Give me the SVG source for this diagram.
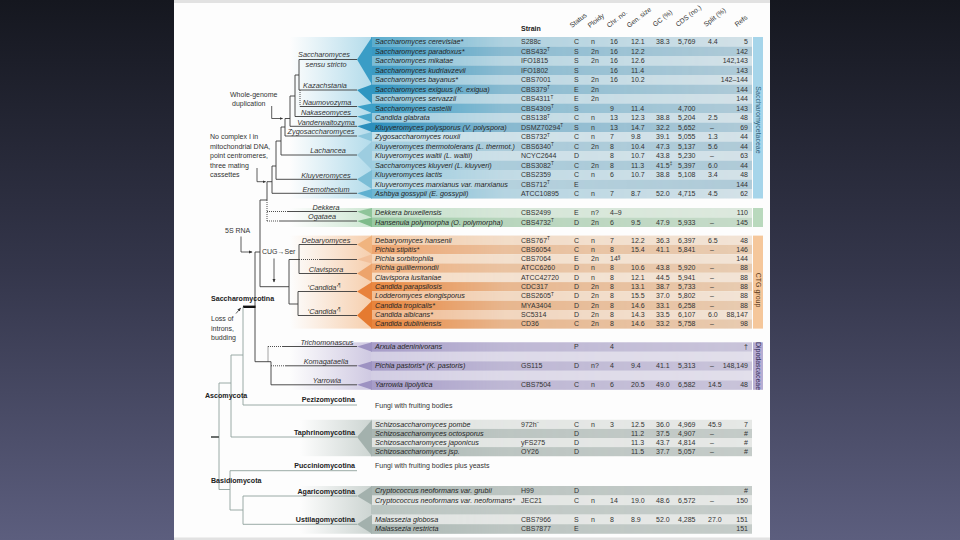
<svg xmlns="http://www.w3.org/2000/svg" width="960" height="540" viewBox="0 0 960 540">
<defs>
<linearGradient id="bg" x1="0" y1="0" x2="0" y2="1">
<stop offset="0" stop-color="#15171f"/><stop offset="0.5" stop-color="#34364b"/><stop offset="1" stop-color="#5c5e7e"/>
</linearGradient>
<linearGradient id="gB" gradientUnits="userSpaceOnUse" x1="290" y1="0" x2="371" y2="0"><stop offset="0" stop-color="#b4dceb" stop-opacity="0"/><stop offset="1" stop-color="#b4dceb"/></linearGradient>
<linearGradient id="gG" gradientUnits="userSpaceOnUse" x1="290" y1="0" x2="371" y2="0"><stop offset="0" stop-color="#cde6d2" stop-opacity="0"/><stop offset="1" stop-color="#cde6d2"/></linearGradient>
<linearGradient id="gO" gradientUnits="userSpaceOnUse" x1="290" y1="0" x2="371" y2="0"><stop offset="0" stop-color="#f6cfae" stop-opacity="0"/><stop offset="1" stop-color="#f6cfae"/></linearGradient>
<linearGradient id="gP" gradientUnits="userSpaceOnUse" x1="290" y1="0" x2="371" y2="0"><stop offset="0" stop-color="#cfc9e2" stop-opacity="0"/><stop offset="1" stop-color="#cfc9e2"/></linearGradient>
<linearGradient id="gY" gradientUnits="userSpaceOnUse" x1="300" y1="0" x2="371" y2="0"><stop offset="0" stop-color="#cdd5d2" stop-opacity="0"/><stop offset="1" stop-color="#cdd5d2"/></linearGradient>
<linearGradient id="fadeG" gradientUnits="userSpaceOnUse" x1="371" y1="0" x2="752" y2="0"><stop offset="0" stop-color="#fff"/><stop offset="0.35" stop-color="#fff" stop-opacity="0.3"/><stop offset="1" stop-color="#fff" stop-opacity="0"/></linearGradient>
<mask id="fade" maskUnits="userSpaceOnUse" x="360" y="0" width="400" height="540"><rect x="360" y="0" width="400" height="540" fill="url(#fadeG)"/></mask>
<marker id="ah" viewBox="0 0 6 6" refX="5" refY="3" markerWidth="4.5" markerHeight="4.5" orient="auto"><path d="M0,0.5 L6,3 L0,5.5 z" fill="#333"/></marker>
<style>
text{font-family:"Liberation Sans",Arial,sans-serif}
.sp{font-size:7.2px;font-style:italic;fill:#262626}
.d{font-size:7px;fill:#333}
.r{text-anchor:end}
.hd{font-size:6.8px;fill:#333}
.st{font-size:7px;font-weight:bold;fill:#222}
.tl{font-size:7.3px;font-style:italic;fill:#333;text-anchor:middle}
.lb{font-size:7px;fill:#333}
.bd{font-size:7.1px;font-weight:bold;fill:#222}
.bdr{font-size:7.1px;font-weight:bold;fill:#222;text-anchor:end}
.vl{font-size:7px;text-anchor:middle}
.sup{font-size:4.6px}
.k{fill:none;stroke:#3a3a3a;stroke-width:0.9}
.g{fill:none;stroke:#8fa09c;stroke-width:0.9}
.dot{stroke-dasharray:1 1}
.ar{fill:none;stroke:#333;stroke-width:0.8;marker-end:url(#ah)}
</style>
</defs>
<rect x="0" y="0" width="960" height="540" fill="url(#bg)"/>
<rect x="174" y="0" width="596" height="540" fill="#fdfdfd"/>
<rect x="174" y="0" width="596" height="3" fill="#e2e2e2"/>
<rect x="174" y="537.5" width="596" height="2.5" fill="#e2e2e2"/>

<!-- group backgrounds -->
<g id="backgrounds">
<rect x="290" y="37" width="82" height="161.5" fill="url(#gB)"/>
<rect x="290" y="208" width="82" height="19" fill="url(#gG)"/>
<rect x="290" y="235.6" width="82" height="93" fill="url(#gO)"/>
<rect x="290" y="342.3" width="82" height="47.5" fill="url(#gP)"/>
<rect x="300" y="419.8" width="72" height="36.4" fill="url(#gY)"/>
<rect x="300" y="486" width="72" height="47.75" fill="url(#gY)"/>
</g>

<!-- row base colours (data region) -->
<g id="rowbase">
<rect x="371" y="37" width="381" height="9.5" fill="#d4e2e8"/>
<rect x="371" y="46.5" width="381" height="9.5" fill="#b0cbd8"/>
<rect x="371" y="56" width="381" height="9.5" fill="#d4e2e8"/>
<rect x="371" y="65.5" width="381" height="9.5" fill="#b0cbd8"/>
<rect x="371" y="75" width="381" height="9.5" fill="#d4e2e8"/>
<rect x="371" y="84.5" width="381" height="9.5" fill="#b0cbd8"/>
<rect x="371" y="94" width="381" height="9.5" fill="#d4e2e8"/>
<rect x="371" y="103.5" width="381" height="9.5" fill="#b0cbd8"/>
<rect x="371" y="113" width="381" height="9.5" fill="#d4e2e8"/>
<rect x="371" y="122.5" width="381" height="9.5" fill="#b0cbd8"/>
<rect x="371" y="132" width="381" height="9.5" fill="#d4e2e8"/>
<rect x="371" y="141.5" width="381" height="9.5" fill="#b0cbd8"/>
<rect x="371" y="151" width="381" height="9.5" fill="#d4e2e8"/>
<rect x="371" y="160.5" width="381" height="9.5" fill="#b0cbd8"/>
<rect x="371" y="170" width="381" height="9.5" fill="#d4e2e8"/>
<rect x="371" y="179.5" width="381" height="9.5" fill="#b0cbd8"/>
<rect x="371" y="189" width="381" height="9.5" fill="#d4e2e8"/>
<rect x="371" y="208" width="381" height="9.5" fill="#dde9de"/>
<rect x="371" y="217.5" width="381" height="9.5" fill="#c6dbc9"/>
<rect x="371" y="235.6" width="381" height="9.3" fill="#f2e4d6"/>
<rect x="371" y="244.9" width="381" height="9.3" fill="#e8ccb2"/>
<rect x="371" y="254.2" width="381" height="9.3" fill="#f2e4d6"/>
<rect x="371" y="263.5" width="381" height="9.3" fill="#e8ccb2"/>
<rect x="371" y="272.8" width="381" height="9.3" fill="#f2e4d6"/>
<rect x="371" y="282.1" width="381" height="9.3" fill="#e8ccb2"/>
<rect x="371" y="291.4" width="381" height="9.3" fill="#f2e4d6"/>
<rect x="371" y="300.7" width="381" height="9.3" fill="#e8ccb2"/>
<rect x="371" y="310" width="381" height="9.3" fill="#f2e4d6"/>
<rect x="371" y="319.3" width="381" height="9.3" fill="#e8ccb2"/>
<rect x="371" y="342.3" width="381" height="9.5" fill="#c9c4da"/>
<rect x="371" y="351.8" width="381" height="9.5" fill="#e2dfeb"/>
<rect x="371" y="361.3" width="381" height="9.5" fill="#c9c4da"/>
<rect x="371" y="370.8" width="381" height="9.5" fill="#e2dfeb"/>
<rect x="371" y="380.3" width="381" height="9.5" fill="#c9c4da"/>
<rect x="371" y="419.8" width="381" height="9.1" fill="#e6e8e6"/>
<rect x="371" y="428.9" width="381" height="9.1" fill="#c5ccc9"/>
<rect x="371" y="438" width="381" height="9.1" fill="#e6e8e6"/>
<rect x="371" y="447.1" width="381" height="9.1" fill="#c5ccc9"/>
<rect x="371" y="486" width="381" height="9.55" fill="#c5ccc9"/>
<rect x="371" y="495.55" width="381" height="9.55" fill="#e6e8e6"/>
<rect x="371" y="505.1" width="381" height="9.55" fill="#c5ccc9"/>
<rect x="371" y="514.65" width="381" height="9.55" fill="#e6e8e6"/>
<rect x="371" y="524.2" width="381" height="9.55" fill="#c5ccc9"/>
</g>

<!-- species column colours, fading to the right -->
<g id="rowtint" mask="url(#fade)">
<rect x="371" y="37" width="381" height="9.5" fill="#5aaccd"/>
<rect x="371" y="46.5" width="381" height="9.5" fill="#3898c2"/>
<rect x="371" y="56" width="381" height="9.5" fill="#79bbd5"/>
<rect x="371" y="65.5" width="381" height="9.5" fill="#3a99c2"/>
<rect x="371" y="75" width="381" height="9.5" fill="#84c0d8"/>
<rect x="371" y="84.5" width="381" height="9.5" fill="#2f94bf"/>
<rect x="371" y="94" width="381" height="9.5" fill="#93c8dc"/>
<rect x="371" y="103.5" width="381" height="9.5" fill="#3a9ec7"/>
<rect x="371" y="113" width="381" height="9.5" fill="#9acbdf"/>
<rect x="371" y="122.5" width="381" height="9.5" fill="#2b8ebc"/>
<rect x="371" y="132" width="381" height="9.5" fill="#c4e1ec"/>
<rect x="371" y="141.5" width="381" height="9.5" fill="#a3d0e2"/>
<rect x="371" y="151" width="381" height="9.5" fill="#bcdce8"/>
<rect x="371" y="160.5" width="381" height="9.5" fill="#a0cfe1"/>
<rect x="371" y="170" width="381" height="9.5" fill="#94c9de"/>
<rect x="371" y="179.5" width="381" height="9.5" fill="#bfdfea"/>
<rect x="371" y="189" width="381" height="9.5" fill="#6db5d2"/>
<rect x="371" y="208" width="381" height="9.5" fill="#c5e1cb"/>
<rect x="371" y="217.5" width="381" height="9.5" fill="#98c9a2"/>
<rect x="371" y="235.6" width="381" height="9.3" fill="#f3cba8"/>
<rect x="371" y="244.9" width="381" height="9.3" fill="#eea46e"/>
<rect x="371" y="254.2" width="381" height="9.3" fill="#f6d6b9"/>
<rect x="371" y="263.5" width="381" height="9.3" fill="#efae7c"/>
<rect x="371" y="272.8" width="381" height="9.3" fill="#f7dbc2"/>
<rect x="371" y="282.1" width="381" height="9.3" fill="#e9873f"/>
<rect x="371" y="291.4" width="381" height="9.3" fill="#f2bf95"/>
<rect x="371" y="300.7" width="381" height="9.3" fill="#e8843b"/>
<rect x="371" y="310" width="381" height="9.3" fill="#f0b487"/>
<rect x="371" y="319.3" width="381" height="9.3" fill="#e8843b"/>
<rect x="371" y="342.3" width="381" height="9.5" fill="#a69cc8"/>
<rect x="371" y="351.8" width="381" height="9.5" fill="#d2cde3"/>
<rect x="371" y="361.3" width="381" height="9.5" fill="#a69cc8"/>
<rect x="371" y="370.8" width="381" height="9.5" fill="#d2cde3"/>
<rect x="371" y="380.3" width="381" height="9.5" fill="#a69cc8"/>
<rect x="371" y="419.8" width="381" height="9.1" fill="#dfe3e1"/>
<rect x="371" y="428.9" width="381" height="9.1" fill="#a9b6b2"/>
<rect x="371" y="438" width="381" height="9.1" fill="#dfe3e1"/>
<rect x="371" y="447.1" width="381" height="9.1" fill="#a9b6b2"/>
<rect x="371" y="486" width="381" height="9.55" fill="#a9b6b2"/>
<rect x="371" y="495.55" width="381" height="9.55" fill="#dfe3e1"/>
<rect x="371" y="505.1" width="381" height="9.55" fill="#b9c4c0"/>
<rect x="371" y="514.65" width="381" height="9.55" fill="#dfe3e1"/>
<rect x="371" y="524.2" width="381" height="9.55" fill="#a9b6b2"/>
</g>

<!-- clade wedges -->
<g id="wedges">
<polygon points="357,59.5 372,37 372,84.5" fill="#3a9dc6"/>
<polygon points="357,90 372,84.5 372,103.5" fill="#2f96c1"/>
<polygon points="357,106.5 372,103.5 372,113" fill="#3da0c8"/>
<polygon points="357,116.5 372,113 372,122.5" fill="#49a6cb"/>
<polygon points="357,126.3 372,122.5 372,132" fill="#2c8fbd"/>
<polygon points="357,136 372,132 372,141.5" fill="#8cc6dc"/>
<polygon points="357,155 372,141.5 372,170" fill="#9dcde0"/>
<polygon points="357,179.3 372,170 372,189" fill="#7bbdd6"/>
<polygon points="357,193.3 372,189 372,198.5" fill="#5fb0d0"/>
<polygon points="357,211.5 372,208 372,217.5" fill="#8fc49a"/>
<polygon points="357,221 372,217.5 372,227" fill="#7fbb8b"/>
<polygon points="357,244.5 372,235.6 372,254.2" fill="#f0b47f"/>
<polygon points="357,259.5 372,254.2 372,263.5" fill="#f2c09a"/>
<polygon points="357,273.5 372,263.5 372,282.1" fill="#eda46c"/>
<polygon points="357,291.5 372,282.1 372,300.7" fill="#e8823c"/>
<polygon points="357,315.5 372,300.7 372,328.6" fill="#e57a30"/>
<polygon points="357,346.5 372,342.3 372,351.8" fill="#9d92c2"/>
<polygon points="357,365.8 372,361.3 372,370.8" fill="#9d92c2"/>
<polygon points="357,384.8 372,380.3 372,389.8" fill="#9d92c2"/>
<polygon points="357,437 372,419.8 372,456.2" fill="#a3b1ad"/>
<polygon points="357,496 372,486 372,505.1" fill="#a3b1ad"/>
<polygon points="357,524.3 372,514.65 372,533.75" fill="#a3b1ad"/>
</g>

<!-- family bars -->
<g id="bar-saccharomycetaceae"><rect x="753" y="37" width="10" height="161.5" fill="#a6d5ea"/><text class="vl" transform="translate(758,120) rotate(90)" dy="2.4" fill="#2f5f78">Saccharomycetaceae</text></g>
<g id="bar-green"><rect x="753" y="208" width="10" height="19" fill="#b9d9bd"/></g>
<g id="bar-ctg"><rect x="753" y="235.6" width="10" height="93" fill="#f5c79b"/><text class="vl" transform="translate(758,290) rotate(90)" dy="2.4" fill="#5b3a1a">CTG group</text></g>
<g id="bar-dipodascaceae"><rect x="753" y="342.3" width="10" height="47.5" fill="#b6add3"/><text class="vl" transform="translate(758,366) rotate(90)" dy="2.4" fill="#2e2a55">Dipodascaceae</text></g>

<!-- connectors -->
<g id="connectors">
<path class="k" d="M357,59.5 H299 V90 H357 M299,75 H295 M300,106.5 H357 M295,75 V116.5 H357 M295,96 H290 M290,96 V126.3 H357 M290,118.5 H285 M285,118.5 V136 H357 M285,127 H281 M281,127 V155 H357 M281,141 H276 M276,141 V179.3 H357 M276,166 H272 M272,166 V193.3 H357 M272,181.7 H267 M267,181.7 V200 M287,211.5 H357 M280,221 H357"/>
<path class="k dot" d="M300,90 V106.5 M267,200 V221 M267,211.5 H287 M267,221 H280"/>
<path class="k" d="M260,200 H267 M260,200 V286.7 H289 M289,259.5 V304 M289,259.5 H299 M357,244.5 H299 V273.5 H357 M320,259.5 H357 M289,304 H298 M357,291.5 H298 V315.5 H357"/>
<path class="k dot" d="M299,259.5 H320"/>
<path class="k" d="M255,252 H260 M255,252 V361.7 H271 V384.8 H357 M283,346.5 H357 M286,365.8 H357"/>
<path class="k dot" d="M268,346.5 V361.7 M268,346.5 H283 M271,365.8 H286"/>
<path d="M243,306.8 H255.5" stroke="#111" stroke-width="2.4" fill="none"/>
<path class="g" d="M243,306.8 V405 H357 M243,355 H231 M231,355 V437 H357 M231,383 H219 M219,383 V489.5 H230 M230,470.7 V510 M230,470.7 H357 M230,510 H243 M243,496 V524.3 M243,496 H357 M243,524.3 H357"/>
<path d="M211,437 H219" stroke="#5a5f5d" stroke-width="1.8" fill="none"/>
<path class="ar" d="M271.7,106 V118.5 H282.5"/>
<path class="ar" d="M257,168 V181.7 H265.5"/>
<path class="ar" d="M241,236.5 V252 H252"/>
<path class="ar" d="M274,258.5 V282"/>
<path class="ar" d="M236,313.5 L240.5,308.2"/>
</g>

<!-- tree labels -->
<g id="tree-labels">
<text class="tl" x="324" y="57">Saccharomyces</text>
<text class="tl" x="326" y="66.5">sensu stricto</text>
<text class="tl" x="325" y="88.2">Kazachstania</text>
<text class="tl" x="327" y="104.8">Naumovozyma</text>
<text class="tl" x="326" y="114.8">Nakaseomyces</text>
<text class="tl" x="326" y="124.6">Vanderwaltozyma</text>
<text class="tl" x="321" y="134.3">Zygosaccharomyces</text>
<text class="tl" x="328" y="153.3">Lachancea</text>
<text class="tl" x="326" y="177.6">Kluyveromyces</text>
<text class="tl" x="326" y="191.6">Eremothecium</text>
<text class="tl" x="326" y="209.8">Dekkera</text>
<text class="tl" x="322" y="219.3">Ogataea</text>
<text class="tl" x="326" y="242.8">Debaryomyces</text>
<text class="tl" x="326" y="271.8">Clavispora</text>
<text class="tl" x="324" y="289.8">‘Candida’<tspan class="sup" dy="-2.4">¶</tspan></text>
<text class="tl" x="324" y="313.8">‘Candida’<tspan class="sup" dy="-2.4">¶</tspan></text>
<text class="tl" x="327" y="344.8">Trichomonascus</text>
<text class="tl" x="326" y="364.1">Komagataella</text>
<text class="tl" x="327" y="383.1">Yarrowia</text>
<text class="lb" x="230" y="96.5">Whole-genome</text>
<text class="lb" x="232" y="106">duplication</text>
<text class="lb" x="210" y="139">No complex I in</text>
<text class="lb" x="210" y="148.5">mitochondrial DNA,</text>
<text class="lb" x="210" y="158">point centromeres,</text>
<text class="lb" x="210" y="167.5">three mating</text>
<text class="lb" x="210" y="177">cassettes</text>
<text class="lb" x="225" y="232.5">5S RNA</text>
<text class="lb" x="262" y="254.3">CUG→Ser</text>
<text class="bd" x="211" y="301">Saccharomycotina</text>
<text class="lb" x="211" y="321">Loss of</text>
<text class="lb" x="211" y="330.5">introns,</text>
<text class="lb" x="211" y="340">budding</text>
<text class="bd" x="205" y="398">Ascomycota</text>
<text class="bd" x="211" y="483">Basidiomycota</text>
<text class="bdr" x="355" y="402">Pezizomycotina</text>
<text class="bdr" x="355" y="434.5">Taphrinomycotina</text>
<text class="bdr" x="355" y="468">Pucciniomycotina</text>
<text class="bdr" x="355" y="493.5">Agaricomycotina</text>
<text class="bdr" x="355" y="521.5">Ustilagomycotina</text>
</g>

<!-- header -->
<g id="header">
<text class="st" x="521" y="31">Strain</text>
<text class="hd" transform="translate(572,28) rotate(-38)">Status</text>
<text class="hd" transform="translate(590,28) rotate(-38)">Ploidy</text>
<text class="hd" transform="translate(609,28) rotate(-38)">Chr. no.</text>
<text class="hd" transform="translate(629,28) rotate(-38)">Gen. size</text>
<text class="hd" transform="translate(655,27) rotate(-38)">GC (%)</text>
<text class="hd" transform="translate(678,27) rotate(-38)">CDS (no.)</text>
<text class="hd" transform="translate(706,27) rotate(-38)">Split (%)</text>
<text class="hd" transform="translate(737,27) rotate(-38)">Refs</text>
</g>

<!-- rows -->
<g id="row-scer"><text class="sp" x="375" y="44.05">Saccharomyces cerevisiae*</text><text class="d" x="521" y="44.05">S288c</text><text class="d" y="44.05"><tspan x="574">C</tspan><tspan x="591">n</tspan><tspan x="610">16</tspan><tspan x="631">12.1</tspan><tspan x="656">38.3</tspan><tspan x="678">5,769</tspan><tspan x="708">4.4</tspan></text><text class="d r" x="748" y="44.05">5</text></g>
<g id="row-spar"><text class="sp" x="375" y="53.55">Saccharomyces paradoxus*</text><text class="d" x="521" y="53.55">CBS432<tspan class="sup" dy="-2.4">T</tspan></text><text class="d" y="53.55"><tspan x="574">S</tspan><tspan x="591">2n</tspan><tspan x="610">16</tspan><tspan x="631">12.2</tspan></text><text class="d r" x="748" y="53.55">142</text></g>
<g id="row-smik"><text class="sp" x="375" y="63.05">Saccharomyces mikatae</text><text class="d" x="521" y="63.05">IFO1815</text><text class="d" y="63.05"><tspan x="574">S</tspan><tspan x="591">2n</tspan><tspan x="610">16</tspan><tspan x="631">12.6</tspan></text><text class="d r" x="748" y="63.05">142,143</text></g>
<g id="row-skud"><text class="sp" x="375" y="72.55">Saccharomyces kudriavzevii</text><text class="d" x="521" y="72.55">IFO1802</text><text class="d" y="72.55"><tspan x="574">S</tspan><tspan x="610">16</tspan><tspan x="631">11.4</tspan></text><text class="d r" x="748" y="72.55">143</text></g>
<g id="row-sbay"><text class="sp" x="375" y="82.05">Saccharomyces bayanus*</text><text class="d" x="521" y="82.05">CBS7001</text><text class="d" y="82.05"><tspan x="574">S</tspan><tspan x="591">2n</tspan><tspan x="610">16</tspan><tspan x="631">10.2</tspan></text><text class="d r" x="748" y="82.05">142–144</text></g>
<g id="row-sexi"><text class="sp" x="375" y="91.55">Saccharomyces exiguus (K. exigua)</text><text class="d" x="521" y="91.55">CBS379<tspan class="sup" dy="-2.4">T</tspan></text><text class="d" y="91.55"><tspan x="574">E</tspan><tspan x="591">2n</tspan></text><text class="d r" x="748" y="91.55">144</text></g>
<g id="row-sser"><text class="sp" x="375" y="101.05">Saccharomyces servazzii</text><text class="d" x="521" y="101.05">CBS4311<tspan class="sup" dy="-2.4">T</tspan></text><text class="d" y="101.05"><tspan x="574">E</tspan><tspan x="591">2n</tspan></text><text class="d r" x="748" y="101.05">144</text></g>
<g id="row-scas"><text class="sp" x="375" y="110.55">Saccharomyces castellii</text><text class="d" x="521" y="110.55">CBS4309<tspan class="sup" dy="-2.4">T</tspan></text><text class="d" y="110.55"><tspan x="574">S</tspan><tspan x="610">9</tspan><tspan x="631">11.4</tspan><tspan x="678">4,700</tspan></text><text class="d r" x="748" y="110.55">143</text></g>
<g id="row-cgla"><text class="sp" x="375" y="120.05">Candida glabrata</text><text class="d" x="521" y="120.05">CBS138<tspan class="sup" dy="-2.4">T</tspan></text><text class="d" y="120.05"><tspan x="574">C</tspan><tspan x="591">n</tspan><tspan x="610">13</tspan><tspan x="631">12.3</tspan><tspan x="656">38.8</tspan><tspan x="678">5,204</tspan><tspan x="708">2.5</tspan></text><text class="d r" x="748" y="120.05">48</text></g>
<g id="row-kpol"><text class="sp" x="375" y="129.55">Kluyveromyces polysporus (V. polyspora)</text><text class="d" x="521" y="129.55">DSMZ70294<tspan class="sup" dy="-2.4">T</tspan></text><text class="d" y="129.55"><tspan x="574">S</tspan><tspan x="591">n</tspan><tspan x="610">13</tspan><tspan x="631">14.7</tspan><tspan x="656">32.2</tspan><tspan x="678">5,652</tspan><tspan x="710">–</tspan></text><text class="d r" x="748" y="129.55">69</text></g>
<g id="row-zrou"><text class="sp" x="375" y="139.05">Zygosaccharomyces rouxii</text><text class="d" x="521" y="139.05">CBS732<tspan class="sup" dy="-2.4">T</tspan></text><text class="d" y="139.05"><tspan x="574">C</tspan><tspan x="591">n</tspan><tspan x="610">7</tspan><tspan x="631">9.8</tspan><tspan x="656">39.1</tspan><tspan x="678">5,055</tspan><tspan x="708">1.3</tspan></text><text class="d r" x="748" y="139.05">44</text></g>
<g id="row-kthe"><text class="sp" x="375" y="148.55">Kluyveromyces thermotolerans (L. thermot.)</text><text class="d" x="521" y="148.55">CBS6340<tspan class="sup" dy="-2.4">T</tspan></text><text class="d" y="148.55"><tspan x="574">C</tspan><tspan x="591">2n</tspan><tspan x="610">8</tspan><tspan x="631">10.4</tspan><tspan x="656">47.3</tspan><tspan x="678">5,137</tspan><tspan x="708">5.6</tspan></text><text class="d r" x="748" y="148.55">44</text></g>
<g id="row-kwal"><text class="sp" x="375" y="158.05">Kluyveromyces waltii (L. waltii)</text><text class="d" x="521" y="158.05">NCYC2644</text><text class="d" y="158.05"><tspan x="574">D</tspan><tspan x="610">8</tspan><tspan x="631">10.7</tspan><tspan x="656">43.8</tspan><tspan x="678">5,230</tspan><tspan x="710">–</tspan></text><text class="d r" x="748" y="158.05">63</text></g>
<g id="row-sklu"><text class="sp" x="375" y="167.55">Saccharomyces kluyveri (L. kluyveri)</text><text class="d" x="521" y="167.55">CBS3082<tspan class="sup" dy="-2.4">T</tspan></text><text class="d" y="167.55"><tspan x="574">C</tspan><tspan x="591">2n</tspan><tspan x="610">8</tspan><tspan x="631">11.3</tspan><tspan x="656">41.5</tspan><tspan class="sup" dy="-2.4">‡</tspan><tspan x="678" dy="2.4">5,397</tspan><tspan x="708">6.0</tspan></text><text class="d r" x="748" y="167.55">44</text></g>
<g id="row-klac"><text class="sp" x="375" y="177.05">Kluyveromyces lactis</text><text class="d" x="521" y="177.05">CBS2359</text><text class="d" y="177.05"><tspan x="574">C</tspan><tspan x="591">n</tspan><tspan x="610">6</tspan><tspan x="631">10.7</tspan><tspan x="656">38.8</tspan><tspan x="678">5,108</tspan><tspan x="708">3.4</tspan></text><text class="d r" x="748" y="177.05">48</text></g>
<g id="row-kmar"><text class="sp" x="375" y="186.55">Kluyveromyces marxianus var. marxianus</text><text class="d" x="521" y="186.55">CBS712<tspan class="sup" dy="-2.4">T</tspan></text><text class="d" x="574" y="186.55">E</text><text class="d r" x="748" y="186.55">144</text></g>
<g id="row-agos"><text class="sp" x="375" y="196.05">Ashbya gossypii (E. gossypii)</text><text class="d" x="521" y="196.05">ATCC10895</text><text class="d" y="196.05"><tspan x="574">C</tspan><tspan x="591">n</tspan><tspan x="610">7</tspan><tspan x="631">8.7</tspan><tspan x="656">52.0</tspan><tspan x="678">4,715</tspan><tspan x="708">4.5</tspan></text><text class="d r" x="748" y="196.05">62</text></g>

<g id="row-dbru"><text class="sp" x="375" y="215.05">Dekkera bruxellensis</text><text class="d" x="521" y="215.05">CBS2499</text><text class="d" y="215.05"><tspan x="574">E</tspan><tspan x="591">n?</tspan><tspan x="610">4–9</tspan></text><text class="d r" x="748" y="215.05">110</text></g>
<g id="row-hpol"><text class="sp" x="375" y="224.55">Hansenula polymorpha (O. polymorpha)</text><text class="d" x="521" y="224.55">CBS4732<tspan class="sup" dy="-2.4">T</tspan></text><text class="d" y="224.55"><tspan x="574">D</tspan><tspan x="591">2n</tspan><tspan x="610">6</tspan><tspan x="631">9.5</tspan><tspan x="656">47.9</tspan><tspan x="678">5,933</tspan><tspan x="710">–</tspan></text><text class="d r" x="748" y="224.55">145</text></g>

<g id="row-dhan"><text class="sp" x="375" y="242.55">Debaryomyces hansenii</text><text class="d" x="521" y="242.55">CBS767<tspan class="sup" dy="-2.4">T</tspan></text><text class="d" y="242.55"><tspan x="574">C</tspan><tspan x="591">n</tspan><tspan x="610">7</tspan><tspan x="631">12.2</tspan><tspan x="656">36.3</tspan><tspan x="678">6,397</tspan><tspan x="708">6.5</tspan></text><text class="d r" x="748" y="242.55">48</text></g>
<g id="row-psti"><text class="sp" x="375" y="251.85">Pichia stipitis*</text><text class="d" x="521" y="251.85">CBS6054</text><text class="d" y="251.85"><tspan x="574">C</tspan><tspan x="591">n</tspan><tspan x="610">8</tspan><tspan x="631">15.4</tspan><tspan x="656">41.1</tspan><tspan x="678">5,841</tspan><tspan x="710">–</tspan></text><text class="d r" x="748" y="251.85">146</text></g>
<g id="row-psor"><text class="sp" x="375" y="261.15">Pichia sorbitophila</text><text class="d" x="521" y="261.15">CBS7064</text><text class="d" y="261.15"><tspan x="574">E</tspan><tspan x="591">2n</tspan><tspan x="610">14</tspan><tspan class="sup" dy="-2.4">§</tspan></text><text class="d r" x="748" y="261.15">144</text></g>
<g id="row-pgui"><text class="sp" x="375" y="270.45">Pichia guilliermondii</text><text class="d" x="521" y="270.45">ATCC6260</text><text class="d" y="270.45"><tspan x="574">D</tspan><tspan x="591">n</tspan><tspan x="610">8</tspan><tspan x="631">10.6</tspan><tspan x="656">43.8</tspan><tspan x="678">5,920</tspan><tspan x="710">–</tspan></text><text class="d r" x="748" y="270.45">88</text></g>
<g id="row-clus"><text class="sp" x="375" y="279.75">Clavispora lusitaniae</text><text class="d" x="521" y="279.75">ATCC42720</text><text class="d" y="279.75"><tspan x="574">D</tspan><tspan x="591">n</tspan><tspan x="610">8</tspan><tspan x="631">12.1</tspan><tspan x="656">44.5</tspan><tspan x="678">5,941</tspan><tspan x="710">–</tspan></text><text class="d r" x="748" y="279.75">88</text></g>
<g id="row-cpar"><text class="sp" x="375" y="289.05">Candida parapsilosis</text><text class="d" x="521" y="289.05">CDC317</text><text class="d" y="289.05"><tspan x="574">D</tspan><tspan x="591">2n</tspan><tspan x="610">8</tspan><tspan x="631">13.1</tspan><tspan x="656">38.7</tspan><tspan x="678">5,733</tspan><tspan x="710">–</tspan></text><text class="d r" x="748" y="289.05">88</text></g>
<g id="row-lelo"><text class="sp" x="375" y="298.35">Lodderomyces elongisporus</text><text class="d" x="521" y="298.35">CBS2605<tspan class="sup" dy="-2.4">T</tspan></text><text class="d" y="298.35"><tspan x="574">D</tspan><tspan x="591">2n</tspan><tspan x="610">8</tspan><tspan x="631">15.5</tspan><tspan x="656">37.0</tspan><tspan x="678">5,802</tspan><tspan x="710">–</tspan></text><text class="d r" x="748" y="298.35">88</text></g>
<g id="row-ctro"><text class="sp" x="375" y="307.65">Candida tropicalis*</text><text class="d" x="521" y="307.65">MYA3404</text><text class="d" y="307.65"><tspan x="574">D</tspan><tspan x="591">2n</tspan><tspan x="610">8</tspan><tspan x="631">14.6</tspan><tspan x="656">33.1</tspan><tspan x="678">6,258</tspan><tspan x="710">–</tspan></text><text class="d r" x="748" y="307.65">88</text></g>
<g id="row-calb"><text class="sp" x="375" y="316.95">Candida albicans*</text><text class="d" x="521" y="316.95">SC5314</text><text class="d" y="316.95"><tspan x="574">D</tspan><tspan x="591">2n</tspan><tspan x="610">8</tspan><tspan x="631">14.3</tspan><tspan x="656">33.5</tspan><tspan x="678">6,107</tspan><tspan x="708">6.0</tspan></text><text class="d r" x="748" y="316.95">88,147</text></g>
<g id="row-cdub"><text class="sp" x="375" y="326.25">Candida dubliniensis</text><text class="d" x="521" y="326.25">CD36</text><text class="d" y="326.25"><tspan x="574">C</tspan><tspan x="591">2n</tspan><tspan x="610">8</tspan><tspan x="631">14.6</tspan><tspan x="656">33.2</tspan><tspan x="678">5,758</tspan><tspan x="710">–</tspan></text><text class="d r" x="748" y="326.25">98</text></g>

<g id="row-aade"><text class="sp" x="375" y="349.35">Arxula adeninivorans</text><text class="d" y="349.35"><tspan x="574">P</tspan><tspan x="610">4</tspan></text><text class="d r" x="748" y="349.35">†</text></g>
<g id="row-ppas"><text class="sp" x="375" y="368.35">Pichia pastoris* (K. pastoris)</text><text class="d" x="521" y="368.35">GS115</text><text class="d" y="368.35"><tspan x="574">D</tspan><tspan x="591">n?</tspan><tspan x="610">4</tspan><tspan x="631">9.4</tspan><tspan x="656">41.1</tspan><tspan x="678">5,313</tspan><tspan x="710">–</tspan></text><text class="d r" x="748" y="368.35">148,149</text></g>
<g id="row-ylip"><text class="sp" x="375" y="387.35">Yarrowia lipolytica</text><text class="d" x="521" y="387.35">CBS7504</text><text class="d" y="387.35"><tspan x="574">C</tspan><tspan x="591">n</tspan><tspan x="610">6</tspan><tspan x="631">20.5</tspan><tspan x="656">49.0</tspan><tspan x="678">6,582</tspan><tspan x="708">14.5</tspan></text><text class="d r" x="748" y="387.35">48</text></g>

<g id="row-pezizo"><text class="lb" x="375" y="408">Fungi with fruiting bodies</text></g>

<g id="row-spom"><text class="sp" x="375" y="426.65">Schizosaccharomyces pombe</text><text class="d" x="521" y="426.65">972h<tspan class="sup" dy="-2.4">−</tspan></text><text class="d" y="426.65"><tspan x="574">C</tspan><tspan x="591">n</tspan><tspan x="610">3</tspan><tspan x="631">12.5</tspan><tspan x="656">36.0</tspan><tspan x="678">4,969</tspan><tspan x="708">45.9</tspan></text><text class="d r" x="748" y="426.65">7</text></g>
<g id="row-soct"><text class="sp" x="375" y="435.75">Schizosaccharomyces octosporus</text><text class="d" y="435.75"><tspan x="574">D</tspan><tspan x="631">11.2</tspan><tspan x="656">37.5</tspan><tspan x="678">4,907</tspan><tspan x="710">–</tspan></text><text class="d r" x="748" y="435.75">#</text></g>
<g id="row-sjap"><text class="sp" x="375" y="444.85">Schizosaccharomyces japonicus</text><text class="d" x="521" y="444.85">yFS275</text><text class="d" y="444.85"><tspan x="574">D</tspan><tspan x="631">11.3</tspan><tspan x="656">43.7</tspan><tspan x="678">4,814</tspan><tspan x="710">–</tspan></text><text class="d r" x="748" y="444.85">#</text></g>
<g id="row-sjsp"><text class="sp" x="375" y="453.95">Schizosaccharomyces jsp.</text><text class="d" x="521" y="453.95">OY26</text><text class="d" y="453.95"><tspan x="574">D</tspan><tspan x="631">11.5</tspan><tspan x="656">37.7</tspan><tspan x="678">5,057</tspan><tspan x="710">–</tspan></text><text class="d r" x="748" y="453.95">#</text></g>

<g id="row-puccinio"><text class="lb" x="375" y="467.5">Fungi with fruiting bodies plus yeasts</text></g>

<g id="row-cgru"><text class="sp" x="375" y="493.1">Cryptococcus neoformans var. grubii</text><text class="d" x="521" y="493.1">H99</text><text class="d" x="574" y="493.1">D</text><text class="d r" x="748" y="493.1">#</text></g>
<g id="row-cneo"><text class="sp" x="375" y="502.6">Cryptococcus neoformans var. neoformans*</text><text class="d" x="521" y="502.6">JEC21</text><text class="d" y="502.6"><tspan x="574">C</tspan><tspan x="591">n</tspan><tspan x="610">14</tspan><tspan x="631">19.0</tspan><tspan x="656">48.6</tspan><tspan x="678">6,572</tspan><tspan x="710">–</tspan></text><text class="d r" x="748" y="502.6">150</text></g>
<g id="row-mglo"><text class="sp" x="375" y="521.7">Malassezia globosa</text><text class="d" x="521" y="521.7">CBS7966</text><text class="d" y="521.7"><tspan x="574">S</tspan><tspan x="591">n</tspan><tspan x="610">8</tspan><tspan x="631">8.9</tspan><tspan x="656">52.0</tspan><tspan x="678">4,285</tspan><tspan x="708">27.0</tspan></text><text class="d r" x="748" y="521.7">151</text></g>
<g id="row-mres"><text class="sp" x="375" y="531.3">Malassezia restricta</text><text class="d" x="521" y="531.3">CBS7877</text><text class="d" x="574" y="531.3">E</text><text class="d r" x="748" y="531.3">151</text></g>
</svg>
